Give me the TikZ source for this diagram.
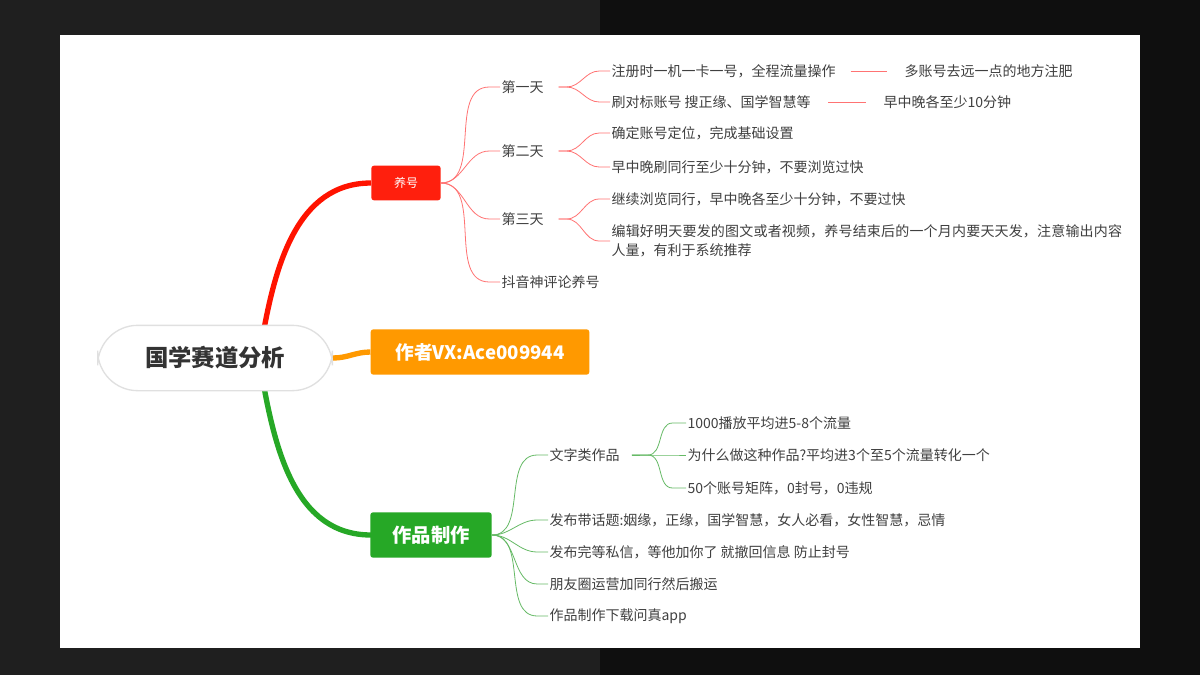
\documentclass[tikz,border=0pt]{standalone}
\usepackage{fontspec}
\setmainfont{Noto Sans CJK SC}
\XeTeXlinebreaklocale "zh"
\XeTeXlinebreakskip=0pt plus 1pt
\begin{document}
\begin{tikzpicture}[x=0.75pt,y=-0.75pt,
  txt/.style={anchor=west,inner sep=1pt,text=black!75,font=\fontsize{10.5}{14}\selectfont},
  rl/.style={draw=red!55!white,line width=0.6pt},
  gl/.style={draw=green!55!black!60!white,line width=0.6pt},
  box/.style={rounded corners=2pt,text=white,inner sep=0pt}]
\fill[black!88] (0,0) rectangle (600,675);
\fill[black!94] (600,0) rectangle (1200,675);
\useasboundingbox (0,0) rectangle (1200,675);
\fill[white] (60,35) rectangle (1140,648);
% main nodes
\coordinate (rt) at (262,340);
\coordinate (rb) at (262,376);
\draw[green!60!black!85!white,line width=4pt] (rb) to[out=-80,in=180] (371,535);
\draw[red!85!orange,line width=4pt] (rt) to[out=80,in=180] (371,183);
\node[draw=black!12,line width=1pt,fill=white,rounded corners=30pt,minimum width=176pt,minimum height=49pt,font=\fontsize{17.5}{20}\bfseries\selectfont,text=black!80] (root) at (215,358) {国学赛道分析};
\node[box,fill=red!85!orange!95!white,minimum width=52pt,minimum height=26pt,font=\fontsize{9}{10}\selectfont] (yh) at (406,183) {养号};
\node[box,fill=orange!80!yellow,minimum width=164pt,minimum height=34pt,font=\fontsize{14}{16}\bfseries\selectfont] (zz) at (480,352) {作者VX:Ace009944};
\node[box,fill=green!60!black!85!white,minimum width=91pt,minimum height=34pt,font=\fontsize{14.5}{16}\bfseries\selectfont] (zp) at (431,535) {作品制作};
\draw[orange!80!yellow,line width=4pt] (root.east) to[out=0,in=180] (zz.west);
% 养号 branch
\node[txt] (d1) at (500,87) {第一天};
\node[txt] (d2) at (500,151) {第二天};
\node[txt] (d3) at (500,219) {第三天};
\node[txt] (dy) at (500,282) {抖音神评论养号};
\foreach \n in {d1,d2,d3,dy} \draw[rl] (yh.east) to[out=0,in=180] ([xshift=-8]\n.west) -- (\n.west);
\node[txt] (a1) at (610,71) {注册时一机一卡一号，全程流量操作};
\node[txt] (a2) at (610,102) {刷对标账号 搜正缘、国学智慧等};
\node[txt] (b1) at (610,133) {确定账号定位，完成基础设置};
\node[txt] (b2) at (610,167) {早中晚刷同行至少十分钟，不要浏览过快};
\node[txt] (c1) at (610,199) {继续浏览同行，早中晚各至少十分钟，不要过快};
\node[txt,text width=386pt,align=left] (c2) at (610,241) {编辑好明天要发的图文或者视频，养号结束后的一个月内要天天发，注意输出内容人量，有利于系统推荐};
\foreach \p/\c in {d1/a1,d1/a2,d2/b1,d2/b2,d3/c1,d3/c2}
  \draw[rl] ([xshift=10]\p.east) -- ([xshift=16]\p.east) to[out=0,in=180] ([xshift=-8]\c.west) -- (\c.west);
\node[txt] (a1b) at (903,71) {多账号去远一点的地方注肥};
\node[txt] (a2b) at (882,102) {早中晚各至少10分钟};
\draw[rl] ([xshift=10]a1.east) -- ([xshift=-12]a1b.west);
\draw[rl] ([xshift=12]a2.east) -- ([xshift=-12]a2b.west);
% 作品制作 branch
\node[txt] (w) at (548,455) {文字类作品};
\node[txt] (p1) at (548,520) {发布带话题:姻缘，正缘，国学智慧，女人必看，女性智慧，忌情};
\node[txt] (p2) at (548,552) {发布完等私信，等他加你了 就撤回信息 防止封号};
\node[txt] (p3) at (548,584) {朋友圈运营加同行然后搬运};
\node[txt] (p4) at (548,616) {作品制作下载问真app};
\foreach \n in {w,p1,p2,p3,p4} \draw[gl] (zp.east) to[out=0,in=180] ([xshift=-8]\n.west) -- (\n.west);
\node[txt] (w1) at (686,423) {1000播放平均进5-8个流量};
\node[txt] (w2) at (686,455) {为什么做这种作品?平均进3个至5个流量转化一个};
\node[txt] (w3) at (686,488) {50个账号矩阵，0封号，0违规};
\foreach \c in {w1,w2,w3}
  \draw[gl] ([xshift=8]w.east) -- ([xshift=20]w.east) to[out=0,in=180] ([xshift=-10]\c.west) -- (\c.west);
\end{tikzpicture}
\end{document}
